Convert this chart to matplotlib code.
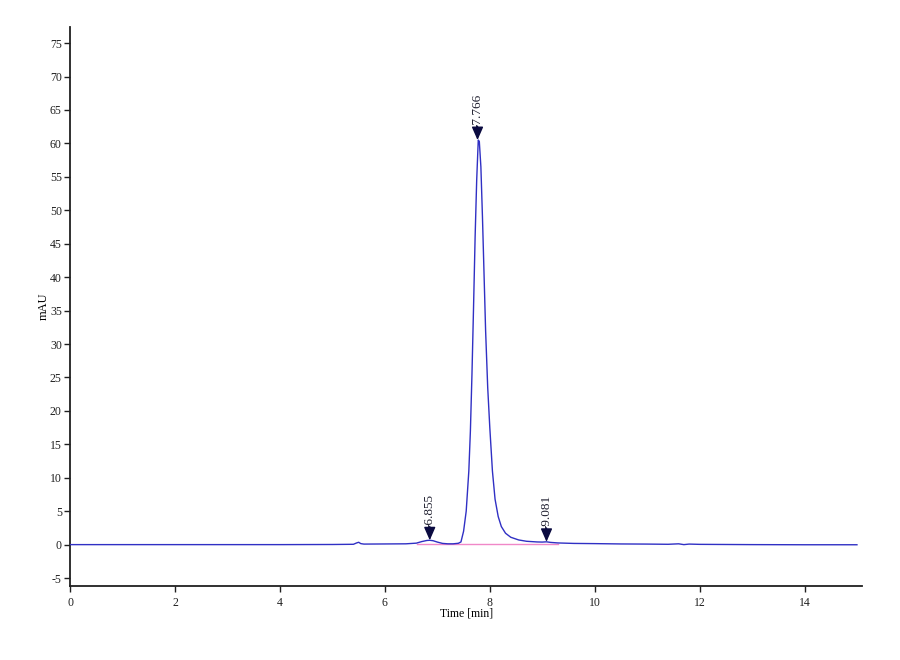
import matplotlib
matplotlib.use("Agg")
import matplotlib.pyplot as plt

plt.rcParams['font.family'] = ['Liberation Serif', 'DejaVu Serif']
plt.rcParams['axes.unicode_minus'] = False

# chromatogram trace (time in min, signal in mAU)
time_min = [0.0, 1.0, 2.0, 3.0, 4.0, 5.0, 5.40, 5.46, 5.50, 5.54, 5.60,
            6.00, 6.40, 6.60, 6.70, 6.80, 6.855, 6.92, 7.00, 7.10, 7.20,
            7.30, 7.40, 7.45, 7.50, 7.55, 7.60, 7.63, 7.66, 7.69, 7.72,
            7.75, 7.78, 7.80, 7.83, 7.86, 7.89, 7.92, 7.96, 8.00, 8.05,
            8.10, 8.16, 8.22, 8.30, 8.40, 8.55, 8.70, 8.90, 9.00, 9.081,
            9.16, 9.30, 9.60, 10.0, 10.5, 11.0, 11.4, 11.6, 11.7, 11.8,
            12.0, 12.5, 13.0, 14.0, 15.0]
signal_mau = [0.00, 0.00, 0.00, 0.00, 0.00, 0.02, 0.05, 0.25, 0.35, 0.15, 0.08,
              0.10, 0.12, 0.22, 0.45, 0.62, 0.65, 0.58, 0.38, 0.18, 0.12,
              0.12, 0.20, 0.40, 2.0, 5.0, 11.0, 17.0, 25.5, 35.5, 46.0,
              54.5, 60.5, 60.3, 56.5, 49.0, 40.5, 32.0, 23.5, 17.5, 11.0,
              6.8, 4.2, 2.7, 1.7, 1.1, 0.7, 0.5, 0.4, 0.38, 0.42,
              0.33, 0.25, 0.18, 0.15, 0.10, 0.08, 0.05, 0.12, 0.0, 0.08,
              0.04, 0.02, 0.0, -0.02, -0.02]

# integration baseline (pink)
base_t = [6.62, 9.30]
base_v = [0.02, 0.02]

# labelled peaks
peak_t = [6.855, 7.766, 9.081]
peak_v = [0.65, 60.5, 0.42]
peak_labels = ['6.855', '7.766', '9.081']

fig = plt.figure(figsize=(9, 6.6), dpi=100)
ax = fig.add_axes([0.078, 0.112, 0.880, 0.847])

ax.plot(base_t, base_v, color='#f088c8', lw=1.0, zorder=2)
ax.plot(time_min, signal_mau, color='#3030c4', lw=1.0, zorder=3)

for t, v, lab in zip(peak_t, peak_v, peak_labels):
    ax.annotate('', xy=(t, v), xytext=(0, 10), textcoords='offset points',
                arrowprops=dict(arrowstyle='-|>,head_length=0.8,head_width=0.35',
                                color='#0a0a40', lw=1.0, shrinkA=0, shrinkB=0),
                zorder=5)
    ax.annotate('-' + lab, xy=(t, v), xytext=(0, 9), textcoords='offset points',
                rotation=90, ha='center', va='bottom', fontsize=9.5,
                color='#202030')

ax.set_xlim(0, 15.1)
ax.set_ylim(-6.2, 77.4)
ax.set_xticks(range(0, 15, 2))
ax.set_yticks(range(-5, 80, 5))

for s in ['top', 'right']:
    ax.spines[s].set_visible(False)
for s in ['left', 'bottom']:
    ax.spines[s].set_linewidth(1.3)
    ax.spines[s].set_color('#202020')

ax.tick_params(axis='both', direction='out', length=4, width=1.0,
               labelsize=8.5, colors='#202020', pad=2)
ax.tick_params(axis='x', pad=4)

ax.set_xlabel('Time [min]', fontsize=8.5, labelpad=-1)
ax.set_ylabel('mAU', fontsize=9, labelpad=0)

fig.savefig('out.png', dpi=100)
